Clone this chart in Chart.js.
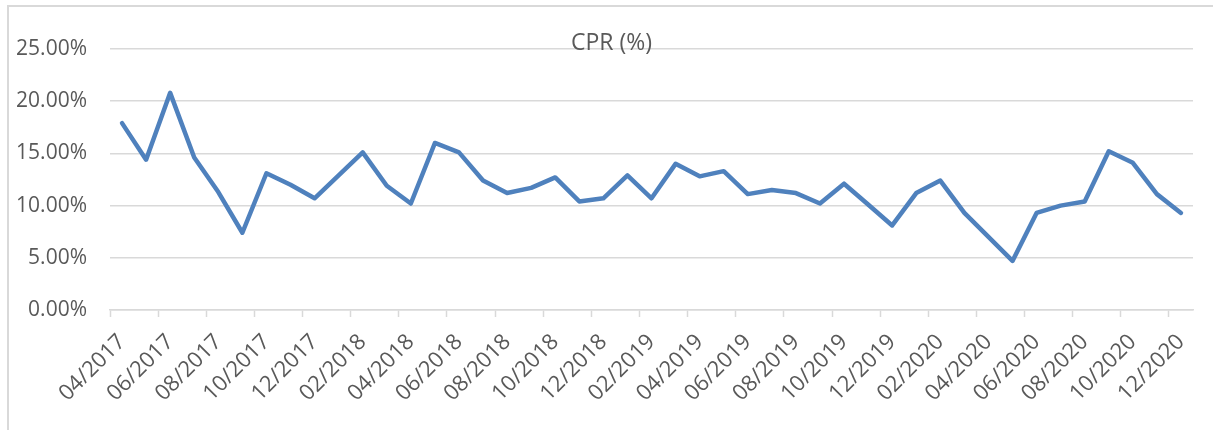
<!DOCTYPE html>
<html>
<head>
<meta charset="utf-8">
<script src="https://cdn.jsdelivr.net/npm/chart.js@4.4.1/dist/chart.umd.min.js"></script>
<style>
    html, body { margin: 0; padding: 0; background: #fff; overflow: hidden; }
    #frame {
        position: absolute; left: 7px; top: 5px; width: 1300px; height: 500px;
        border-left: 2px solid #d9d9d9; border-top: 2px solid #d9d9d9;
    }
    #wrap { position: absolute; left: 0; top: 0; width: 1213px; height: 430px; }
</style>
</head>
<body>
<div id="frame"></div>
<div id="wrap"><canvas id="cprChart"></canvas></div>
<script>
const CHART_TITLE = 'CPR (%)';

const MONTHS = [
    '04/2017', '05/2017', '06/2017', '07/2017', '08/2017', '09/2017', '10/2017', '11/2017', '12/2017',
    '01/2018', '02/2018', '03/2018', '04/2018', '05/2018', '06/2018', '07/2018', '08/2018', '09/2018',
    '10/2018', '11/2018', '12/2018', '01/2019', '02/2019', '03/2019', '04/2019', '05/2019', '06/2019',
    '07/2019', '08/2019', '09/2019', '10/2019', '11/2019', '12/2019', '01/2020', '02/2020', '03/2020',
    '04/2020', '05/2020', '06/2020', '07/2020', '08/2020', '09/2020', '10/2020', '11/2020', '12/2020'
];

// CPR in percent, one per month
const CPR_VALUES = [
    17.9, 14.4, 20.8, 14.6, 11.3, 7.4, 13.1, 12.0, 10.7,
    12.9, 15.1, 11.9, 10.2, 16.0, 15.1, 12.4, 11.2, 11.7,
    12.7, 10.4, 10.7, 12.9, 10.7, 14.0, 12.8, 13.3, 11.1,
    11.5, 11.2, 10.2, 12.1, 10.1, 8.1, 11.2, 12.4, 9.3,
    7.0, 4.7, 9.3, 10.0, 10.4, 15.2, 14.1, 11.1, 9.3
];

const Y_MIN = 0;
const Y_MAX = 25;
const Y_STEP = 5;

const LINE_COLOR = '#4f81bd';
const GRID_COLOR = '#d9d9d9';
const TEXT_COLOR = '#595959';
const FONT_FAMILY = '"Open Sans", "Noto Sans", sans-serif';

// title sits over the plot, like the spreadsheet original
const overlayTitle = {
    id: 'overlayTitle',
    afterDraw(chart) {
        const ctx = chart.ctx;
        ctx.save();
        ctx.font = '23px ' + FONT_FAMILY;
        ctx.fillStyle = TEXT_COLOR;
        ctx.textAlign = 'center';
        ctx.textBaseline = 'alphabetic';
        ctx.fillText(CHART_TITLE, chart.width / 2 + 5, chart.chartArea.top + 1);
        ctx.restore();
    }
};

const ctx = document.getElementById('cprChart').getContext('2d');
new Chart(ctx, {
    type: 'line',
    data: {
        labels: MONTHS,
        datasets: [{
            data: CPR_VALUES,
            borderColor: LINE_COLOR,
            borderWidth: 4.5,
            borderJoinStyle: 'round',
            borderCapStyle: 'round',
            pointRadius: 0,
            tension: 0,
            fill: false
        }]
    },
    options: {
        responsive: true,
        maintainAspectRatio: false,
        animation: false,
        layout: {
            padding: { top: 49, right: 20, left: 0, bottom: 0 }
        },
        scales: {
            x: {
                offset: true,
                grid: {
                    offset: true,
                    drawOnChartArea: false,
                    tickLength: 7,
                    tickWidth: 1.5,
                    tickColor: (c) => (c.index % 2 === 0 ? GRID_COLOR : 'rgba(0,0,0,0)')
                },
                border: { color: GRID_COLOR, width: 1.5 },
                ticks: {
                    autoSkip: false,
                    minRotation: 45,
                    maxRotation: 45,
                    padding: 12,
                    color: TEXT_COLOR,
                    font: { family: FONT_FAMILY, size: 22 },
                    callback: function (val, idx) {
                        return idx % 2 === 0 ? this.getLabelForValue(val) : '';
                    }
                },
                afterFit: (scale) => { scale.height = 120; }
            },
            y: {
                min: Y_MIN,
                max: Y_MAX,
                grid: { color: GRID_COLOR, lineWidth: 1.5, drawTicks: false },
                border: { display: false },
                ticks: {
                    stepSize: Y_STEP,
                    padding: 23,
                    color: TEXT_COLOR,
                    font: { family: FONT_FAMILY, size: 21 },
                    callback: (v) => v.toFixed(2) + '%'
                },
                afterFit: (scale) => { scale.width = 110; }
            }
        },
        plugins: {
            legend: { display: false },
            tooltip: { enabled: false },
            title: { display: false }
        }
    },
    plugins: [overlayTitle]
});
</script>
</body>
</html>
